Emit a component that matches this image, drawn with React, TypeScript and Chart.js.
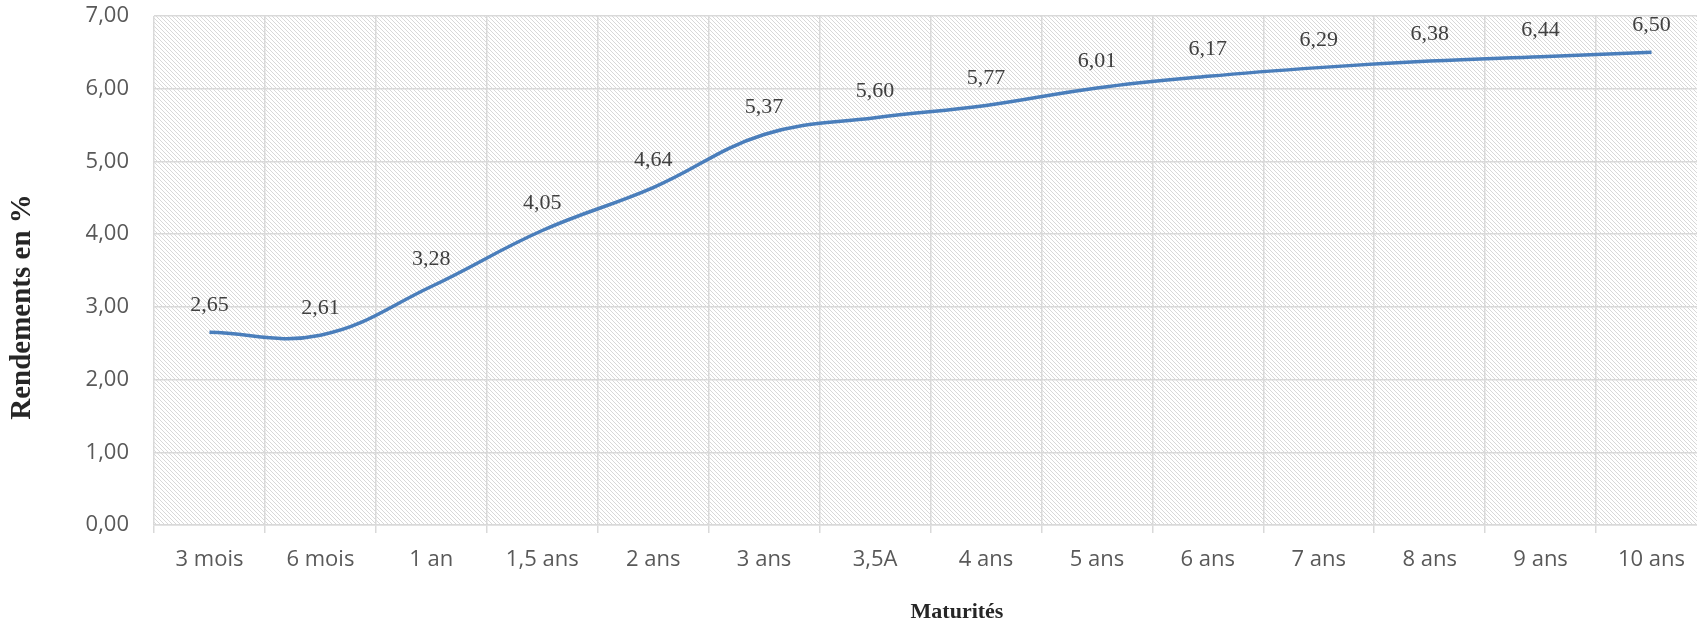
import React, { useEffect, useRef } from "react";
import { Chart, registerables } from "chart.js";

Chart.register(...registerables);

const categories = [
  "3 mois", "6 mois", "1 an", "1,5 ans", "2 ans", "3 ans", "3,5A",
  "4 ans", "5 ans", "6 ans", "7 ans", "8 ans", "9 ans", "10 ans",
];
const rendements = [2.65, 2.61, 3.28, 4.05, 4.64, 5.37, 5.6, 5.77, 6.01, 6.17, 6.29, 6.38, 6.44, 6.5];
const yTicks = [0, 1, 2, 3, 4, 5, 6, 7];
const yTitle = "Rendements en %";
const xTitle = "Maturités";

const fmt = (v: number) => v.toFixed(2).replace(".", ",");

function makePattern(ctx: CanvasRenderingContext2D) {
  const c = document.createElement("canvas");
  c.width = 4;
  c.height = 4;
  const p = c.getContext("2d")!;
  p.fillStyle = "#ffffff";
  p.fillRect(0, 0, 4, 4);
  p.fillStyle = "#d8d8d8";
  for (let i = 0; i < 4; i++) p.fillRect(i, i, 1, 1);
  return ctx.createPattern(c, "repeat")!;
}

const hatchPlugin = {
  id: "hatch",
  beforeDraw(chart: any) {
    const { ctx, chartArea, width, height } = chart;
    ctx.save();
    ctx.fillStyle = "#ffffff";
    ctx.fillRect(0, 0, width, height);
    ctx.fillStyle = makePattern(ctx);
    ctx.fillRect(chartArea.left, chartArea.top, chartArea.right - chartArea.left, chartArea.bottom - chartArea.top);
    ctx.restore();
  },
};

const labelsPlugin = {
  id: "valueLabels",
  afterDatasetsDraw(chart: any) {
    const { ctx } = chart;
    const meta = chart.getDatasetMeta(0);
    ctx.save();
    ctx.font = "22px 'Liberation Serif', 'Times New Roman', serif";
    ctx.fillStyle = "#404040";
    ctx.textAlign = "center";
    ctx.textBaseline = "middle";
    meta.data.forEach((pt: any, i: number) => {
      ctx.fillText(fmt(rendements[i]), pt.x, pt.y - 27);
    });
    ctx.restore();
  },
};

const titlesPlugin = {
  id: "axisTitles",
  afterDraw(chart: any) {
    const { ctx } = chart;
    ctx.save();
    ctx.fillStyle = "#262626";
    ctx.textAlign = "center";
    ctx.textBaseline = "middle";
    ctx.font = "bold 22px 'Liberation Serif', 'Times New Roman', serif";
    ctx.fillText(xTitle, 957, 612);
    ctx.translate(23, 307);
    ctx.rotate(-Math.PI / 2);
    ctx.font = "bold 29px 'Liberation Serif', 'Times New Roman', serif";
    ctx.fillText(yTitle, 0, 0);
    ctx.restore();
  },
};

export default function App() {
  const ref = useRef<HTMLCanvasElement>(null);
  useEffect(() => {
    document.body.style.margin = "0";
    document.body.style.overflow = "hidden";
    const chart = new Chart(ref.current!, {
      type: "line",
      data: {
        labels: categories,
        datasets: [
          {
            data: rendements,
            borderColor: "#4a7ebb",
            borderWidth: 3.5,
            pointRadius: 0,
            tension: 0.4,
            fill: false,
          },
        ],
      },
      options: {
        responsive: false,
        animation: false,
        devicePixelRatio: 1,
        layout: { autoPadding: false, padding: { top: 16, right: 5, left: 0, bottom: 0 } },
        plugins: { legend: { display: false }, tooltip: { enabled: false }, title: { display: false } },
        scales: {
          x: {
            type: "category",
            offset: true,
            grid: { color: "#d9d9d9", lineWidth: 1.5, offset: true, tickLength: 8, drawTicks: true },
            border: { color: "#d9d9d9", width: 1.5 },
            ticks: {
              color: "#595959",
              font: { family: "'Open Sans'", size: 22 },
              padding: 14,
              maxRotation: 0,
              autoSkip: false,
            },
            afterFit(scale: any) {
              scale.height = 104;
            },
          },
          y: {
            min: 0,
            max: 7,
            grid: { color: "#d9d9d9", lineWidth: 1.5, drawTicks: true, tickLength: 25, tickColor: "rgba(0,0,0,0)" },
            border: { display: false },
            afterBuildTicks(scale: any) {
              scale.ticks = yTicks.map((v) => ({ value: v }));
            },
            ticks: {
              color: "#595959",
              font: { family: "'Open Sans'", size: 22 },
              padding: 0,
              callback: (v: any) => fmt(Number(v)),
            },
            afterFit(scale: any) {
              scale.width = 154;
            },
          },
        },
      },
      plugins: [hatchPlugin, labelsPlugin, titlesPlugin],
    } as any);
    return () => chart.destroy();
  }, []);
  return (
    <div style={{ position: "absolute", left: 0, top: 0, width: 1697, height: 629, overflow: "hidden" }}>
      <canvas ref={ref} width={1712} height={629} style={{ display: "block" }} />
    </div>
  );
}
